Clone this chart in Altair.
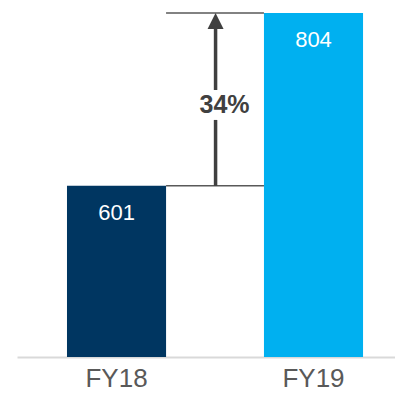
import altair as alt
import pandas as pd

years = ["FY18", "FY19"]
values = [601, 804]
colors = ["#003661", "#00B0F0"]
growth_label = "34%"

base_value = 400

bars_df = pd.DataFrame({"year": years, "value": values, "color": colors})

x_scale = alt.Scale(domain=years, paddingInner=0.497, paddingOuter=0.208, align=0.61)
y_scale = alt.Scale(domain=[base_value, values[1]], zero=False, nice=False)

x_enc = alt.X("year:N", scale=x_scale, sort=years,
              axis=alt.Axis(title=None, ticks=False, labelAngle=0, labelFontSize=26,
                            labelFont="Liberation Sans", labelColor="#595959",
                            labelPadding=8, domainColor="#d9d9d9", domainWidth=2))

bars = alt.Chart(bars_df).mark_bar().encode(
    x=x_enc,
    y=alt.Y("value:Q", scale=y_scale, axis=None),
    y2=alt.datum(base_value),
    color=alt.Color("color:N", scale=None),
)

labels = alt.Chart(bars_df).mark_text(
    color="white", fontSize=22, font="Liberation Sans", baseline="middle", dy=27
).encode(
    x=alt.X("year:N", scale=x_scale, sort=years),
    y=alt.Y("value:Q", scale=y_scale),
    text=alt.Text("value:Q"),
)

# dimension lines from FY18 edge to FY19 edge at both bar tops
dims_df = pd.DataFrame({"start": [years[0], years[0]], "end": [years[1], years[1]],
                        "value": values})
dims = alt.Chart(dims_df).mark_rule(color="#595959", strokeWidth=1.5).encode(
    x=alt.X("start:N", scale=x_scale, sort=years, bandPosition=1),
    x2=alt.X2("end:N", bandPosition=0),
    y=alt.Y("value:Q", scale=y_scale),
)

gap_half = 49.5  # half of the gap between bars, in pixels

mid = (values[0] + values[1]) / 2
text_val = mid - 6.5
gap = 17.6
head_len = 18.8
shaft_df = pd.DataFrame({
    "pos": [years[0], years[0]],
    "y1": [values[0], text_val + gap],
    "y2": [text_val - gap, values[1] - head_len],
})
shaft = alt.Chart(shaft_df).mark_rule(color="#404040", strokeWidth=3.5, xOffset=gap_half).encode(
    x=alt.X("pos:N", scale=x_scale, sort=years, bandPosition=1),
    y=alt.Y("y1:Q", scale=y_scale),
    y2="y2:Q",
)

head_df = pd.DataFrame({"pos": [years[0]], "value": [values[1]]})
head = alt.Chart(head_df).mark_point(
    shape="M0,0L1,2L-1,2Z", size=256, filled=True, color="#404040", opacity=1,
    strokeWidth=0, xOffset=gap_half
).encode(
    x=alt.X("pos:N", scale=x_scale, sort=years, bandPosition=1),
    y=alt.Y("value:Q", scale=y_scale),
)

text_df = pd.DataFrame({"pos": [years[0]], "value": [text_val], "label": [growth_label]})
growth = alt.Chart(text_df).mark_text(
    color="#404040", fontSize=25, fontWeight="bold", font="Liberation Sans",
    baseline="middle", xOffset=gap_half + 9
).encode(
    x=alt.X("pos:N", scale=x_scale, sort=years, bandPosition=1),
    y=alt.Y("value:Q", scale=y_scale),
    text="label:N",
)

chart = alt.layer(bars, labels, dims, shaft, head, growth).properties(
    width=378, height=344,
    autosize=alt.AutoSizeParams(type="none"),
    padding={"left": 9, "top": 5, "right": 0, "bottom": 35},
).configure_view(stroke=None)

chart.save("out.html", embed_options={"renderer": "svg", "actions": False})
